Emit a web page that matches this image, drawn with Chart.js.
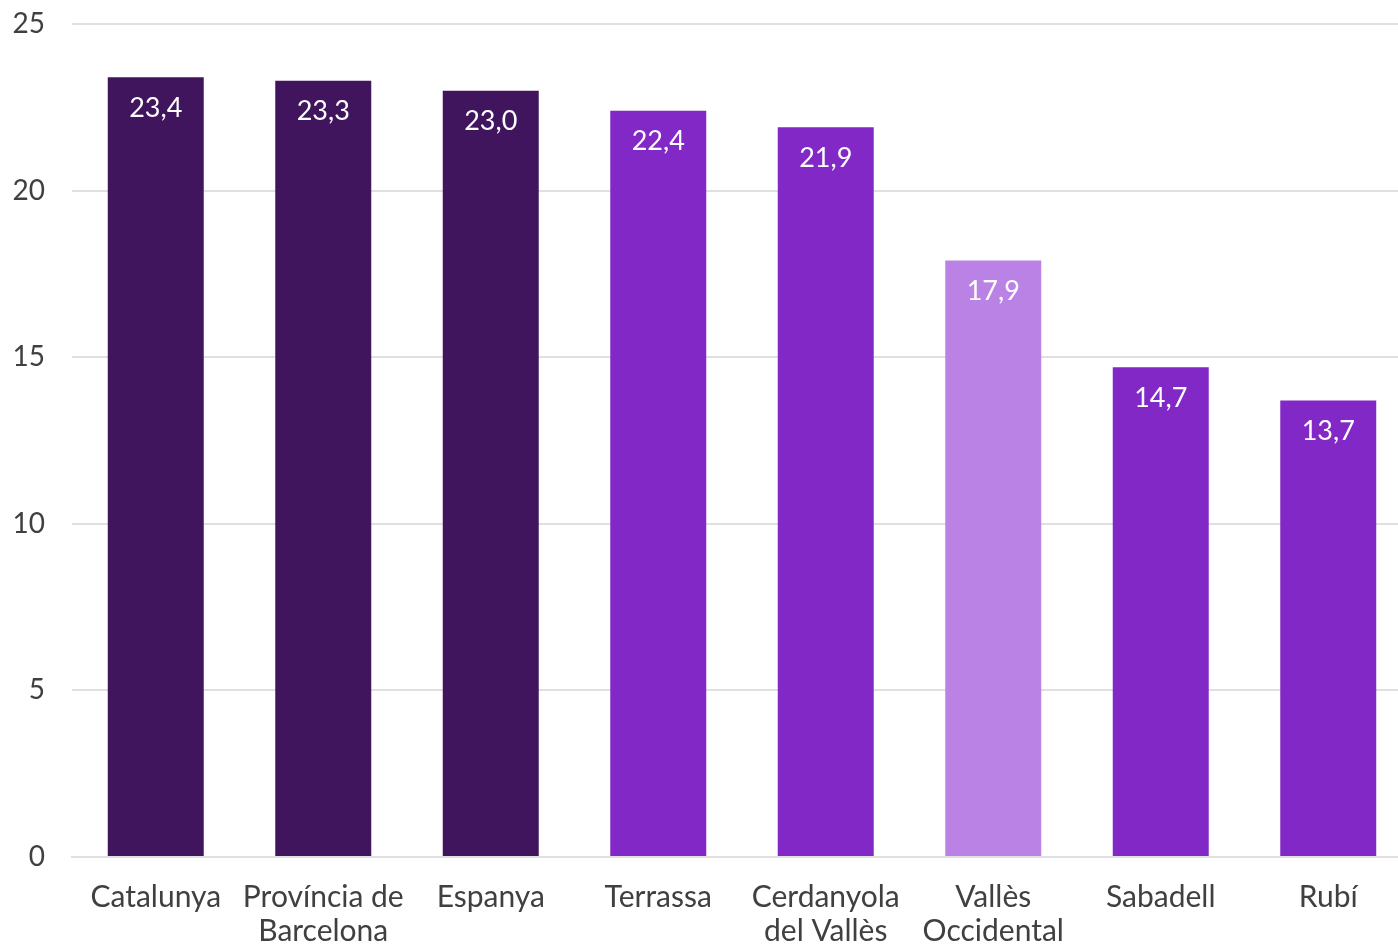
<!DOCTYPE html>
<html>
<head>
<meta charset="utf-8">
<script src="https://cdn.jsdelivr.net/npm/chart.js@4/dist/chart.umd.min.js"></script>
<style>
html,body{margin:0;padding:0;background:#fff;overflow:hidden;}
#wrap{width:1412px;height:944px;position:relative;}
</style>
</head>
<body>
<div id="wrap"><canvas id="c"></canvas></div>
<script>
const categories = [["Catalunya"], ["Província de", "Barcelona"], ["Espanya"], ["Terrassa"], ["Cerdanyola", "del Vallès"], ["Vallès", "Occidental"], ["Sabadell"], ["Rubí"]];
const values = [23.4, 23.3, 23.0, 22.4, 21.9, 17.9, 14.7, 13.7];
const barColors = ["#41145e", "#41145e", "#41145e", "#8228c6", "#8228c6", "#bb82e6", "#8228c6", "#8228c6"];
const yTicks = [0, 5, 10, 15, 20, 25];

const FONT = "Lato, 'Noto Sans', sans-serif";

const valueLabels = {
  id: 'valueLabels',
  afterDatasetsDraw(chart) {
    const ctx = chart.ctx;
    const meta = chart.getDatasetMeta(0);
    ctx.save();
    ctx.fillStyle = '#ffffff';
    ctx.font = '27px ' + FONT;
    ctx.textAlign = 'center';
    ctx.textBaseline = 'middle';
    meta.data.forEach((bar, i) => {
      const txt = values[i].toFixed(1).replace('.', ',');
      ctx.fillText(txt, bar.x, bar.y + 31);
    });
    ctx.restore();
  }
};

new Chart(document.getElementById('c'), {
  type: 'bar',
  data: {
    labels: categories,
    datasets: [{
      data: values,
      backgroundColor: barColors,
      borderWidth: 0,
      categoryPercentage: 1,
      barPercentage: 0.573
    }]
  },
  options: {
    responsive: true,
    maintainAspectRatio: false,
    animation: false,
    devicePixelRatio: 1,
    layout: { padding: { top: 24, right: 0, left: 0, bottom: 0 } },
    plugins: { legend: { display: false }, tooltip: { enabled: false } },
    scales: {
      x: {
        grid: { display: false, drawTicks: false },
        border: { display: true, color: '#e0e0e0', width: 2 },
        ticks: {
          color: '#404040',
          font: { family: FONT, size: 30, lineHeight: 1.15 },
          padding: 23,
          maxRotation: 0,
          autoSkip: false
        },
        afterFit(s) { s.height = 87; }
      },
      y: {
        min: 0,
        max: 25,
        afterBuildTicks(s) { s.ticks = yTicks.map(v => ({ value: v })); },
        grid: { color: '#e0e0e0', lineWidth: 2, drawTicks: true, tickLength: 27, tickColor: 'rgba(0,0,0,0)' },
        border: { display: false },
        ticks: {
          color: '#404040',
          font: { family: FONT, size: 28 },
          padding: 0
        },
        afterFit(s) { s.width = 72; }
      }
    }
  },
  plugins: [valueLabels]
});
</script>
</body>
</html>
